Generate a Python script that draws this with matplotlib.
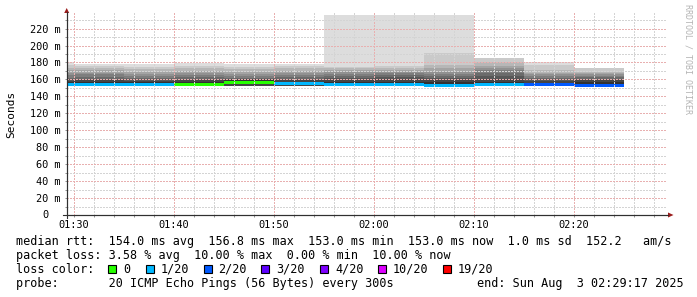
import datetime as dt

import matplotlib

matplotlib.use("Agg")
import matplotlib.dates as mdates
import matplotlib.pyplot as plt
from matplotlib.lines import Line2D
from matplotlib.patches import Polygon, Rectangle
from matplotlib.ticker import FixedLocator, FixedFormatter, MultipleLocator
from matplotlib.transforms import ScaledTranslation

W, H = 697, 297
DAY = dt.date(2025, 8, 3)
MONO = "DejaVu Sans Mono"

# 5-minute steps; the first one is cut by the graph start
graph_start = "01:29:17"
graph_end = "02:29:17"
step_ends = ["01:30", "01:35", "01:40", "01:45", "01:50", "01:55",
             "02:00", "02:05", "02:10", "02:15", "02:20", "02:25"]

median_rtt = [154.2, 154.3, 153.7, 154.5, 156.8, 155.0,
              154.0, 154.0, 153.2, 154.3, 154.0, 153.0]
loss_count = [1, 1, 1, 0, 0, 1, 1, 1, 1, 1, 2, 2]

# sorted pings (ms), highest first; lower half mostly hidden under the median
ping20 = [180.5, 178.0, 178.5, 179.0, 178.0, 178.0, 236.3, 236.3, 236.3, 185.5, 181.0, 174.0]
ping19 = [177.0, 176.0, 175.0, 176.0, 175.0, 176.0, 175.0, 176.0, 191.5, 185.0, 176.5, 173.5]
ping18 = [174.0, 173.0, 172.0, 173.0, 172.0, 173.0, 173.0, 174.0, 177.0, 181.0, 171.0, 169.0]
ping17 = [171.0, 171.0, 169.0, 170.0, 169.0, 170.0, 171.0, 171.0, 173.0, 176.0, 168.0, 167.5]
ping16 = [168.0, 168.0, 166.0, 167.0, 166.0, 167.0, 169.0, 169.0, 169.0, 173.0, 166.0, 166.0]
ping15 = [165.0, 166.0, 164.0, 165.0, 164.0, 165.0, 166.0, 167.0, 166.0, 171.0, 164.0, 164.0]
ping14 = [162.0, 163.0, 162.0, 163.0, 162.0, 163.0, 164.0, 165.0, 164.0, 167.0, 162.0, 162.5]
ping13 = [160.0, 161.0, 160.0, 161.0, 161.0, 161.0, 162.0, 163.0, 162.0, 164.0, 160.0, 161.0]
ping12 = [158.0, 159.0, 158.0, 159.0, 160.0, 159.0, 159.0, 160.0, 159.5, 161.0, 158.0, 159.0]
ping11 = [156.5, 157.0, 156.5, 157.0, 159.0, 157.5, 156.5, 157.0, 157.5, 157.5, 156.0, 156.5]
ping10 = [153.8, 153.8, 153.2, 154.0, 155.0, 154.5, 153.5, 153.5, 152.8, 153.8, 153.5, 152.6]
ping_min = [152.8, 153.0, 152.5, 153.0, 152.6, 152.5, 152.8, 153.0, 152.5, 153.0, 152.8, 152.3]

loss_colors = {0: "#26ff00", 1: "#00b8ff", 2: "#0059ff", 3: "#5e00ff",
               4: "#7e00ff", 10: "#dd00ff", 19: "#ff0000"}
loss_labels = ["0", "1/20", "2/20", "3/20", "4/20", "10/20", "19/20"]
loss_keys = [0, 1, 2, 3, 4, 10, 19]

y_ticks = list(range(0, 221, 20))


def tstamp(s):
    return dt.datetime.combine(DAY, dt.time.fromisoformat(s))


def px(x, y):
    return x / W, 1 - y / H


edges = [tstamp(graph_start)] + [tstamp(s) for s in step_ends]

fig = plt.figure(figsize=(W / 100, H / 100), dpi=100, facecolor="white")
left, right, top, bottom = 66.7, 666.7, 13.3, 215.0
ax = fig.add_axes([left / W, 1 - bottom / H, (right - left) / W, (bottom - top) / H])

# smoke: outermost pair lightest, innermost darkest
tops = [ping20, ping19, ping18, ping17, ping16, ping15, ping14, ping13, ping12, ping11]
half = len(tops)
for i, hi in enumerate(tops):
    shade = int(190 / half * (half - 1 - i)) + 50
    lo = ping10 if i == half - 1 else ping_min
    ax.fill_between(edges, lo + [lo[-1]], hi + [hi[-1]], step="post",
                    color="#%02x%02x%02x" % (shade, shade, shade), linewidth=0)

# median band coloured by loss
for i, med in enumerate(median_rtt):
    ax.fill_between([edges[i], edges[i + 1]], med - 1.8, med + 1.8,
                    color=loss_colors[loss_count[i]], linewidth=0)

ax.set_xlim(tstamp(graph_start), tstamp(graph_end))
ax.set_ylim(0, 238)

ax.xaxis.set_major_locator(mdates.MinuteLocator(byminute=range(0, 60, 10)))
ax.xaxis.set_minor_locator(mdates.MinuteLocator(byminute=range(0, 60, 2)))
ax.xaxis.set_major_formatter(mdates.DateFormatter("%H:%M"))
ax.yaxis.set_major_locator(FixedLocator(y_ticks))
ax.yaxis.set_minor_locator(MultipleLocator(10))
ax.yaxis.set_major_formatter(FixedFormatter(["" if v == 0 else f"{v} m" for v in y_ticks]))

ax.set_axisbelow(False)
ax.grid(which="minor", color="#d4d4d4", linestyle=(0, (1.4, 1.4)), linewidth=0.72,
        antialiased=False)
ax.grid(which="major", color="#e8b0b0", linestyle=(0, (1.4, 1.4)), linewidth=0.72,
        antialiased=False)

ax.tick_params(which="both", length=1.6, width=0.72, color="#909090")
ax.tick_params(axis="y", pad=2.6, labelsize=7.4)
ax.tick_params(axis="x", pad=2.0, labelsize=7.4)
for lab in ax.get_xticklabels() + ax.get_yticklabels():
    lab.set_fontfamily(MONO)

for side in ("top", "right"):
    ax.spines[side].set_visible(False)
for side in ("left", "bottom"):
    ax.spines[side].set_color("#303030")
    ax.spines[side].set_linewidth(0.8)

ax.text(0, 0, "0",
        transform=ax.get_yaxis_transform() + ScaledTranslation(-0.217, 0, fig.dpi_scale_trans),
        ha="center", va="center", fontsize=7.4, family=MONO)

# axis extensions and arrows
fig.add_artist(Line2D(*zip(px(63, 215), px(668, 215)), color="#303030", lw=0.8))
fig.add_artist(Line2D(*zip(px(66.7, 218), px(66.7, 12)), color="#303030", lw=0.8))
fig.add_artist(Polygon([px(668, 212.5), px(673.5, 215), px(668, 217.5)], closed=True,
                       color="#9b1c1c", lw=0))
fig.add_artist(Polygon([px(64.2, 13), px(66.7, 8), px(69.2, 13)], closed=True,
                       color="#9b1c1c", lw=0))

fig.text(*px(11, 114.5), "Seconds", rotation=90, ha="center", va="center",
         fontsize=8.0, family=MONO)
fig.text(*px(688, 4), "RRDTOOL / TOBI OETIKER", rotation=270, ha="center", va="top",
         fontsize=6.0, family=MONO, color="#b4b4b4")

# legend rows
rows = [
    "median rtt:  154.0 ms avg  156.8 ms max  153.0 ms min  153.0 ms now  1.0 ms sd  152.2   am/s",
    "packet loss: 3.58 % avg  10.00 % max  0.00 % min  10.00 % now",
    "loss color:",
    "probe:       20 ICMP Echo Pings (56 Bytes) every 300s",
]
baselines = [245.5, 259.0, 273.0, 287.5]
for text, base in zip(rows, baselines):
    fig.text(*px(16, base), text, ha="left", va="baseline", fontsize=8.45, family=MONO)
fig.text(*px(683.5, baselines[3]), "end: Sun Aug  3 02:29:17 2025", ha="right",
         va="baseline", fontsize=8.45, family=MONO)

box_x = [108.4, 145.8, 203.6, 261.0, 320.0, 377.8, 442.7]
for bx, key, lab in zip(box_x, loss_keys, loss_labels):
    fig.add_artist(Rectangle(px(bx, 273), 8 / W, 8 / H, facecolor=loss_colors[key],
                             edgecolor="black", lw=0.8))
    fig.text(*px(bx + 15, baselines[2]), lab, ha="left", va="baseline",
             fontsize=8.45, family=MONO)

fig.savefig("out.png", dpi=100, facecolor="white")
